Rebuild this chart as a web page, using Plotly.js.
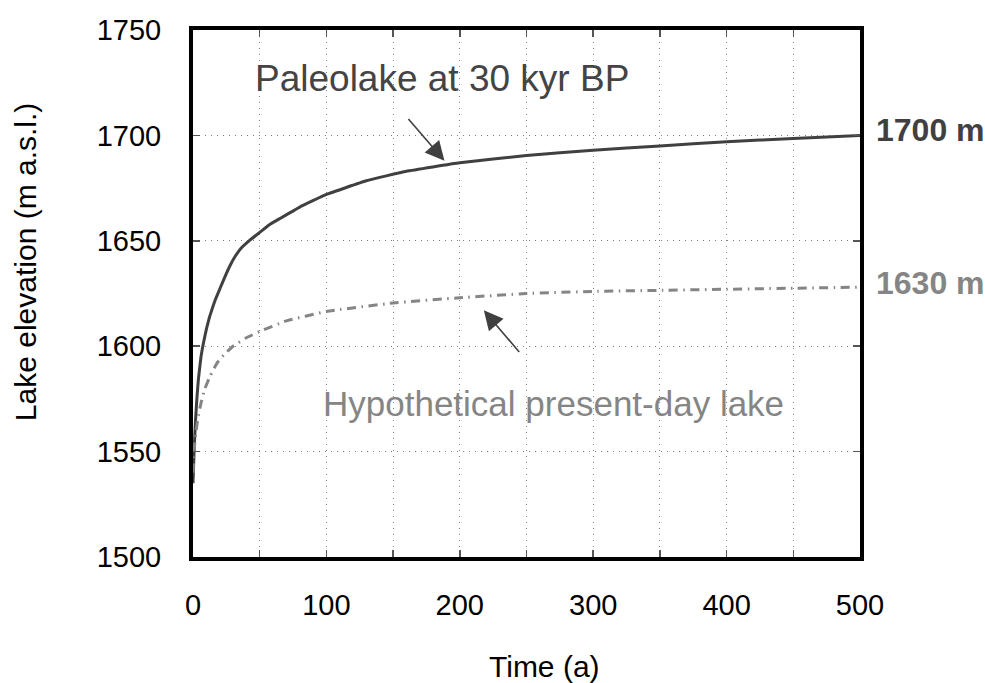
<!DOCTYPE html>
<html>
<head>
<meta charset="utf-8">
<script src="https://cdn.plot.ly/plotly-3.0.1.min.js"></script>
<style>
  html, body { margin: 0; padding: 0; background: #fff; }
  #chart { width: 985px; height: 683px; }
</style>
</head>
<body>
<div id="chart"></div>
<script>
// Time (a) and lake elevation (m a.s.l.)
const paleoTime = [0, 1, 2, 3, 4, 6, 8, 10, 12, 14, 17, 20, 24, 28, 32, 36, 42, 50, 57, 65, 80, 100, 130, 160, 200, 250, 300, 350, 400, 450, 500];
const paleoElev = [1535, 1553, 1566, 1576, 1584, 1595, 1602, 1608, 1613, 1617, 1622.5, 1627, 1633, 1638.5, 1643, 1646.5, 1650, 1654, 1657.5, 1660.5, 1666, 1672, 1678.5, 1683, 1687, 1690.5, 1693, 1695, 1697, 1698.5, 1700];

const presentTime = [0, 1, 2, 3, 4, 6, 9, 13, 18, 24, 30, 40, 50, 70, 100, 150, 200, 250, 300, 350, 400, 450, 500];
const presentElev = [1540, 1552, 1558, 1563, 1567, 1573, 1580, 1586, 1592, 1596.5, 1600, 1604, 1607, 1612, 1616.5, 1620.5, 1623, 1625, 1626, 1626.5, 1627, 1627.5, 1628];

const xTickVals = [0, 100, 200, 300, 400, 500];
const xTickText = ['0', '100', '200', '300', '400', '500'];
const yTickVals = [1500, 1550, 1600, 1650, 1700, 1750];
const yTickText = ['1500', '1550', '1600', '1650', '1700', '1750'];

const paleoLabel = 'Paleolake at 30 kyr BP';
const presentLabel = 'Hypothetical present-day lake';
const paleoEndLabel = '1700 m';
const presentEndLabel = '1630 m';
const xTitle = 'Time (a)';
const yTitle = 'Lake elevation (m a.s.l.)';

const FONT = '"Liberation Sans", Arial, Helvetica, sans-serif';

const traces = [
  {
    x: paleoTime, y: paleoElev, type: 'scatter', mode: 'lines',
    name: paleoLabel,
    line: { color: '#404040', width: 3, shape: 'spline', smoothing: 0.3 },
    hoverinfo: 'x+y'
  },
  {
    x: presentTime, y: presentElev, type: 'scatter', mode: 'lines',
    name: presentLabel,
    line: { color: '#858585', width: 3, shape: 'spline', smoothing: 0.3, dash: '9px,5.5px,1.5px,5.5px' },
    hoverinfo: 'x+y'
  }
];

const layout = {
  width: 985, height: 683,
  margin: { l: 193, r: 125, t: 30, b: 126, pad: 0 },
  paper_bgcolor: '#ffffff', plot_bgcolor: '#ffffff',
  showlegend: false,
  font: { family: FONT, size: 29, color: '#000000' },
  xaxis: {
    range: [0, 500],
    tickvals: xTickVals, ticktext: xTickText,
    ticks: 'inside', ticklen: 7, tickwidth: 1.5, tickcolor: '#555555',
    showline: true, linecolor: '#000000', linewidth: 4, mirror: 'allticks',
    showgrid: true, gridcolor: '#808080', gridwidth: 1, griddash: '1px,5px',
    minor: { dtick: 50, tick0: 0, ticks: 'inside', ticklen: 7, tickwidth: 1.5, tickcolor: '#555555',
             showgrid: true, gridcolor: '#808080', gridwidth: 1, griddash: '1px,5px' },
    zeroline: false,
    tickfont: { family: FONT, size: 29, color: '#000000' },
    ticklabelstandoff: 19
  },
  yaxis: {
    range: [1500, 1750],
    tickvals: yTickVals, ticktext: yTickText,
    ticks: 'inside', ticklen: 7, tickwidth: 1.5, tickcolor: '#555555',
    showline: true, linecolor: '#000000', linewidth: 4, mirror: 'allticks',
    showgrid: true, gridcolor: '#808080', gridwidth: 1, griddash: '1px,5px',
    zeroline: false,
    tickfont: { family: FONT, size: 29, color: '#000000' },
    ticklabelstandoff: 22
  },
  annotations: [
    { xref: 'paper', yref: 'paper', x: 0.527, y: -0.208, text: xTitle, showarrow: false,
      xanchor: 'center', yanchor: 'middle', font: { family: FONT, size: 30, color: '#000000' } },
    { xref: 'paper', yref: 'paper', x: -0.25, y: 0.56, text: yTitle, showarrow: false, textangle: -90,
      xanchor: 'center', yanchor: 'middle', font: { family: FONT, size: 30, color: '#000000' } },
    { xref: 'x', yref: 'y', x: 186.5, y: 1727, text: paleoLabel, showarrow: false,
      xanchor: 'center', yanchor: 'middle', font: { family: FONT, size: 37, color: '#444444' } },
    { xref: 'x', yref: 'y', x: 270, y: 1573, text: presentLabel, showarrow: false,
      xanchor: 'center', yanchor: 'middle', font: { family: FONT, size: 35, color: '#858585' } },
    { xref: 'x', yref: 'y', x: 188.5, y: 1688, ax: 160.5, ay: 1708.5, axref: 'x', ayref: 'y',
      text: '', showarrow: true, arrowhead: 2, arrowsize: 2.4, arrowwidth: 1.6, arrowcolor: '#404040' },
    { xref: 'x', yref: 'y', x: 218, y: 1617, ax: 245.5, ay: 1596.5, axref: 'x', ayref: 'y',
      text: '', showarrow: true, arrowhead: 2, arrowsize: 2.4, arrowwidth: 1.6, arrowcolor: '#404040' },
    { xref: 'paper', yref: 'y', x: 1, y: 1702.5, xshift: 14, text: '<b>' + paleoEndLabel + '</b>', showarrow: false,
      xanchor: 'left', yanchor: 'middle', font: { family: FONT, size: 32, color: '#404040' } },
    { xref: 'paper', yref: 'y', x: 1, y: 1630, xshift: 14, text: '<b>' + presentEndLabel + '</b>', showarrow: false,
      xanchor: 'left', yanchor: 'middle', font: { family: FONT, size: 32, color: '#858585' } }
  ]
};

Plotly.newPlot('chart', traces, layout, { displayModeBar: false, staticPlot: true });
</script>
</body>
</html>
